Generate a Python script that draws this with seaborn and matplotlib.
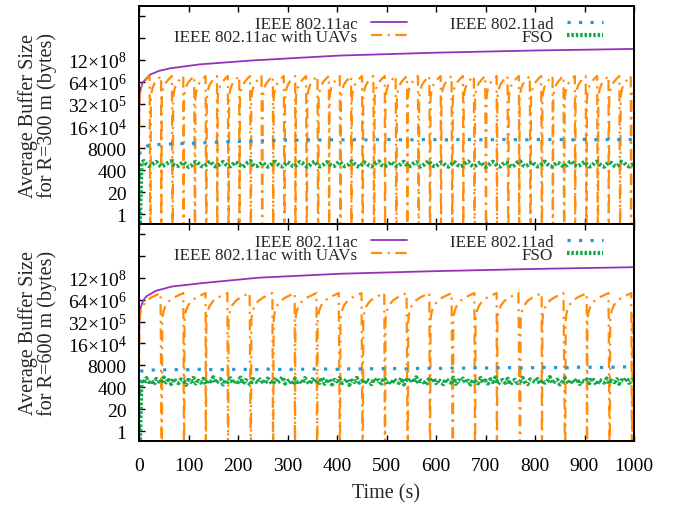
import numpy as np
import matplotlib
matplotlib.use("Agg")
import matplotlib.pyplot as plt
from matplotlib.ticker import NullLocator
import seaborn as sns

# ---------------- data (y values read as exponents of 20, i.e. log20(bytes)) ----------------
series_names = ["IEEE 802.11ac", "IEEE 802.11ac with UAVs", "IEEE 802.11ad", "FSO"]
panel_labels = ["Average Buffer Size\nfor R=300 m (bytes)", "Average Buffer Size\nfor R=600 m (bytes)"]
x_ticks = [0, 100, 200, 300, 400, 500, 600, 700, 800, 900, 1000]
y_tick_exps = [0, 1, 2, 3, 4, 5, 6, 7, 8, 9]
y_tick_labels = ["1", "20", "400", "8000", "16×10$^{4}$", "32×10$^{5}$",
                 "64×10$^{6}$", "12×10$^{8}$", "", ""]

# IEEE 802.11ac
ac_top_t = [0, 0.5, 1, 2, 4, 7, 13, 22, 40, 63, 123, 224, 325, 406, 600, 800, 1000]
ac_top_e = [2.8, 4.6, 5.2, 5.5, 5.75, 5.95, 6.12, 6.33, 6.5, 6.62, 6.8, 6.97, 7.1, 7.2, 7.33, 7.43, 7.5]
ac_bot_t = [0, 0.5, 1, 3, 8, 15, 34, 67, 135, 242, 406, 600, 800, 1000]
ac_bot_e = [2.8, 4.5, 5.1, 5.6, 5.95, 6.15, 6.4, 6.6, 6.77, 7.0, 7.18, 7.3, 7.4, 7.48]

# IEEE 802.11ac with UAVs: buffer emptied at the reset times, then refills
uav_top_resets = [23, 45, 68, 90, 113, 136, 158, 181, 203, 226, 249, 271, 294, 316, 339,
                  362, 384, 407, 429, 452, 475, 497, 520, 542, 565, 588, 610, 633, 655,
                  678, 701, 723, 746, 768, 791, 814, 836, 859, 881, 904, 927, 949, 972, 994]
uav_top_dt = [1, 2, 4, 7, 11, 16, 21.5]
uav_top_e = [5.24, 5.47, 5.70, 5.88, 6.02, 6.15, 6.27]
uav_bot_resets = [46, 91, 135, 180, 226, 271, 315, 360, 406, 452, 497, 543, 588, 634,
                  679, 723, 770, 814, 861, 905, 951, 996]
uav_bot_dt = [1, 2, 4, 8, 15, 25, 35, 43.5]
uav_bot_e = [5.05, 5.28, 5.50, 5.73, 5.94, 6.10, 6.21, 6.30]

# IEEE 802.11ad
ad_t = [0, 2, 5, 10] + list(range(20, 1001, 20))
ad_top_e = [-2, 2.88, 2.95, 3.02,
            3.12, 3.16, 3.18, 3.20, 3.21, 3.23, 3.25, 3.27, 3.29, 3.30,
            3.31, 3.32, 3.34, 3.35, 3.36, 3.36, 3.37, 3.36, 3.37, 3.38,
            3.37, 3.38, 3.37, 3.38, 3.39, 3.37, 3.38, 3.37, 3.39, 3.38,
            3.37, 3.38, 3.39, 3.38, 3.37, 3.38, 3.39, 3.38, 3.37, 3.39,
            3.38, 3.39, 3.38, 3.37, 3.39, 3.38, 3.38, 3.39, 3.38, 3.39]
ad_bot_e = [-2, 2.70, 2.74, 2.76,
            2.78, 2.80, 2.79, 2.81, 2.80, 2.82, 2.81, 2.80, 2.82, 2.81,
            2.82, 2.81, 2.83, 2.82, 2.81, 2.83, 2.82, 2.84, 2.83, 2.82,
            2.84, 2.83, 2.85, 2.84, 2.86, 2.85, 2.84, 2.86, 2.87, 2.86,
            2.87, 2.88, 2.87, 2.89, 2.88, 2.89, 2.90, 2.89, 2.88, 2.90,
            2.91, 2.90, 2.89, 2.91, 2.92, 2.91, 2.90, 2.92, 2.93, 2.92]

# FSO
fso_t = [0] + list(range(5, 1001, 5))
fso_top_e = [-2,
    2.33, 2.41, 2.26, 2.18, 2.22, 2.31, 2.37, 2.24, 2.16, 2.21,
    2.27, 2.35, 2.40, 2.23, 2.17, 2.20, 2.29, 2.36, 2.25, 2.14,
    2.19, 2.28, 2.38, 2.30, 2.19, 2.15, 2.23, 2.33, 2.39, 2.22,
    2.16, 2.21, 2.30, 2.37, 2.26, 2.18, 2.17, 2.27, 2.36, 2.29,
    2.20, 2.14, 2.24, 2.35, 2.41, 2.25, 2.17, 2.19, 2.28, 2.34,
    2.23, 2.15, 2.20, 2.31, 2.38, 2.27, 2.18, 2.16, 2.25, 2.36,
    2.30, 2.19, 2.17, 2.26, 2.37, 2.32, 2.21, 2.15, 2.22, 2.33,
    2.39, 2.24, 2.16, 2.20, 2.29, 2.36, 2.26, 2.18, 2.19, 2.30,
    2.38, 2.28, 2.17, 2.21, 2.27, 2.40, 2.29, 2.19, 2.14, 2.24,
    2.35, 2.31, 2.20, 2.16, 2.25, 2.34, 2.39, 2.23, 2.17, 2.21,
    2.28, 2.37, 2.26, 2.18, 2.19, 2.30, 2.38, 2.25, 2.15, 2.20,
    2.31, 2.36, 2.22, 2.16, 2.23, 2.32, 2.41, 2.27, 2.18, 2.17,
    2.26, 2.35, 2.30, 2.19, 2.15, 2.24, 2.37, 2.33, 2.21, 2.16,
    2.22, 2.33, 2.39, 2.25, 2.17, 2.20, 2.29, 2.36, 2.24, 2.14,
    2.21, 2.30, 2.38, 2.28, 2.18, 2.16, 2.27, 2.35, 2.31, 2.19,
    2.15, 2.25, 2.36, 2.40, 2.23, 2.17, 2.22, 2.31, 2.37, 2.24,
    2.16, 2.19, 2.30, 2.38, 2.27, 2.18, 2.16, 2.26, 2.34, 2.29,
    2.20, 2.15, 2.24, 2.36, 2.39, 2.22, 2.17, 2.21, 2.30, 2.37,
    2.25, 2.16, 2.19, 2.32, 2.38, 2.28, 2.18, 2.15, 2.27, 2.35,
    2.31, 2.20, 2.17, 2.25, 2.37, 2.33, 2.21, 2.16, 2.23, 2.30]
fso_bot_e = [-2,
    2.35, 2.18, 2.42, 2.24, 2.31, 2.12, 2.38, 2.27, 2.20, 2.45,
    2.22, 2.33, 2.15, 2.40, 2.26, 2.19, 2.36, 2.29, 2.11, 2.34,
    2.25, 2.43, 2.17, 2.30, 2.21, 2.39, 2.14, 2.32, 2.27, 2.46,
    2.20, 2.28, 2.37, 2.13, 2.34, 2.24, 2.41, 2.18, 2.30, 2.23,
    2.44, 2.16, 2.33, 2.26, 2.10, 2.38, 2.29, 2.21, 2.36, 2.25,
    2.19, 2.40, 2.27, 2.14, 2.35, 2.22, 2.31, 2.47, 2.17, 2.28,
    2.33, 2.12, 2.39, 2.24, 2.30, 2.18, 2.42, 2.26, 2.15, 2.37,
    2.23, 2.32, 2.20, 2.45, 2.16, 2.29, 2.36, 2.13, 2.34, 2.27,
    2.41, 2.19, 2.26, 2.38, 2.11, 2.31, 2.24, 2.43, 2.21, 2.29,
    2.17, 2.35, 2.28, 2.14, 2.40, 2.25, 2.32, 2.18, 2.44, 2.23,
    2.30, 2.15, 2.37, 2.26, 2.20, 2.42, 2.13, 2.33, 2.27, 2.39,
    2.22, 2.46, 2.18, 2.31, 2.24, 2.12, 2.36, 2.29, 2.41, 2.19,
    2.34, 2.25, 2.14, 2.38, 2.28, 2.21, 2.44, 2.16, 2.32, 2.26,
    2.40, 2.20, 2.30, 2.13, 2.35, 2.27, 2.18, 2.42, 2.23, 2.31,
    2.17, 2.37, 2.24, 2.45, 2.15, 2.29, 2.33, 2.20, 2.39, 2.12,
    2.28, 2.34, 2.19, 2.26, 2.43, 2.22, 2.14, 2.36, 2.30, 2.25,
    2.38, 2.16, 2.32, 2.21, 2.29, 2.47, 2.18, 2.27, 2.35, 2.13,
    2.24, 2.41, 2.28, 2.17, 2.33, 2.22, 2.39, 2.15, 2.31, 2.26,
    2.36, 2.19, 2.44, 2.25, 2.12, 2.34, 2.28, 2.21, 2.40, 2.18,
    2.30, 2.23, 2.37, 2.16, 2.32, 2.27, 2.43, 2.20, 2.29, 2.35]

# ---------------- styling ----------------
PURPLE = "#9433b8"
ORANGE = "#ff8c0a"
BLUE = "#1f98dc"
GREEN = "#14a84a"
EMPTY = 1e-3  # an empty buffer, drawn below the visible log range


def to_bytes(exps):
    return [20.0 ** e for e in exps]


def sawtooth(resets, dts, exps, start_exp):
    t, y = [0.0], [20.0 ** start_exp]
    starts = [0.0] + list(resets)
    for i, s in enumerate(starts):
        if i > 0:
            t.append(s)
            y.append(EMPTY)
        for d, e in zip(dts, exps):
            t.append(s + d)
            y.append(20.0 ** e)
    return t, y


sns.set_theme(style="ticks")
plt.rcParams["font.family"] = ["Liberation Serif", "DejaVu Serif"]
plt.rcParams["mathtext.fontset"] = "custom"
plt.rcParams["mathtext.rm"] = "Liberation Serif"
plt.rcParams["mathtext.default"] = "regular"

fig = plt.figure(figsize=(6.79, 5.10), dpi=100)
W, H = 679.0, 510.0
ax_top = fig.add_axes([139 / W, 1 - 225 / H, 495 / W, 218 / H])
ax_bot = fig.add_axes([139 / W, 1 - 442 / H, 495 / W, 217 / H])

panels = [
    (ax_top, ac_top_t, ac_top_e, uav_top_resets, uav_top_dt, uav_top_e, ad_top_e, fso_top_e),
    (ax_bot, ac_bot_t, ac_bot_e, uav_bot_resets, uav_bot_dt, uav_bot_e, ad_bot_e, fso_bot_e),
]

for idx, (ax, act, ace, res, dts, ue, ade, fse) in enumerate(panels):
    sns.lineplot(x=act, y=to_bytes(ace), ax=ax, color=PURPLE, linewidth=1.3,
                 estimator=None, sort=False, label=series_names[0])
    ut, uy = sawtooth(res, dts, ue, ace[0])
    sns.lineplot(x=ut, y=uy, ax=ax, color=ORANGE, linewidth=1.6,
                 linestyle=(0, (5, 2.5, 1, 2.5)),
                 estimator=None, sort=False, label=series_names[1])
    sns.lineplot(x=ad_t, y=to_bytes(ade), ax=ax, color=BLUE, linewidth=2.3,
                 linestyle=(0, (1, 2.6)),
                 estimator=None, sort=False, label=series_names[2])
    sns.lineplot(x=fso_t, y=to_bytes(fse), ax=ax, color=GREEN, linewidth=3.0,
                 linestyle=(0, (0.6, 0.45)),
                 estimator=None, sort=False, label=series_names[3])

    ax.set_yscale("log", base=20)
    ax.set_xlim(0, 1000)
    ax.set_ylim(20 ** -0.45, 20 ** 9.45)
    ax.set_yticks([20.0 ** e for e in y_tick_exps])
    ax.set_yticklabels(y_tick_labels)
    ax.yaxis.set_minor_locator(NullLocator())
    ax.set_xticks(x_ticks)
    ax.xaxis.set_minor_locator(NullLocator())
    ax.tick_params(axis="y", which="major", direction="in", left=True, right=False,
                   length=4, width=1, labelsize=14, pad=9, colors="black")
    ax.tick_params(axis="x", which="major", direction="in", top=True, bottom=True,
                   length=4, width=1, labelsize=14, pad=11.5, colors="black",
                   labelbottom=(idx == 1))
    for sp in ax.spines.values():
        sp.set_linewidth(1.4)
        sp.set_color("black")
    ax.set_ylabel(panel_labels[idx], fontsize=14.5, linespacing=0.95)
    ax.yaxis.set_label_coords(-0.165, 0.5)
    ax.set_xlabel("")

    leg = ax.legend(loc="upper right", bbox_to_anchor=(0.937, 0.955), ncol=2,
                    markerfirst=False, frameon=False, fontsize=12.3,
                    handlelength=2.1, handletextpad=0.8, columnspacing=2.5,
                    labelspacing=-0.17, borderaxespad=0, borderpad=0)

ax_bot.set_xlabel("Time (s)", fontsize=14.5, labelpad=6.5)

fig.savefig("out.png", dpi=100, facecolor="white")
